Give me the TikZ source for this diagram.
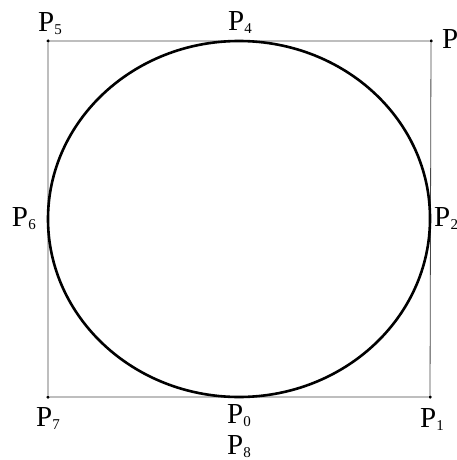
\documentclass[tikz,border=0pt]{standalone}
\usepackage{fontspec}
\setmainfont{Liberation Serif}
\usetikzlibrary{positioning, calc}
\definecolor{edgegray}{RGB}{70,70,70}
\newcommand{\plab}[1]{P\kern0.3pt\raisebox{-3pt}{\fontsize{15}{15}\selectfont #1}}

\begin{document}
\begin{tikzpicture}[x=1pt, y=-1pt,
  dot/.style={circle, fill=black, inner sep=0pt, minimum size=3.5pt},
  lab/.style={inner sep=0pt, font=\fontsize{29}{30}\selectfont},
  hull/.style={draw=edgegray, line width=0.8pt},
  curve/.style={draw=black, line width=2.6pt},
]
\useasboundingbox (0,0) rectangle (456,460);
% control points
\node[dot] (p7) at (48,397) {};
\node[dot] (p1) at (430,397) {};
\node[dot] (p3) at (431,41) {};
\node[dot] (p5) at (48,41) {};
\coordinate (p0) at (239,397);
\coordinate (p2) at (430,219);
\coordinate (p4) at (239,41);
\coordinate (p6) at (48,219);

\draw[hull] (p7) -- (p1) -- (p3) -- (p5) -- (p7);

\draw[curve] (p0) .. controls ($(p0)!0.552!(p1)$) and ($(p2)!0.552!(p1)$) .. (p2)
  .. controls ($(p2)!0.552!(p3)$) and ($(p4)!0.552!(p3)$) .. (p4)
  .. controls ($(p4)!0.552!(p5)$) and ($(p6)!0.552!(p5)$) .. (p6)
  .. controls ($(p6)!0.552!(p7)$) and ($(p0)!0.552!(p7)$) .. (p0);

% labels
\node[lab, anchor=south, above=4pt of p5, xshift=2pt] (l5) {\plab{5}};
\node[lab, anchor=south, above=7pt of p4, xshift=1pt] (l4) {\plab{4}};
\node[lab, anchor=west, right=9pt of p3] (l3) {\plab{3}};
\node[lab, anchor=east, left=12pt of p6] (l6) {\plab{6}};
\node[lab, anchor=west, right=4pt of p2] (l2) {\plab{2}};
\node[lab, anchor=north, below=8pt of p7] (l7) {\plab{7}};
\node[lab, anchor=north, below=7pt of p0] (l0) {\plab{0}};
\node[lab, anchor=north, below=9pt of l0] (l8) {\plab{8}};
\node[lab, anchor=north, below=9pt of p1, xshift=2pt] (l1) {\plab{1}};
\end{tikzpicture}
\end{document}
